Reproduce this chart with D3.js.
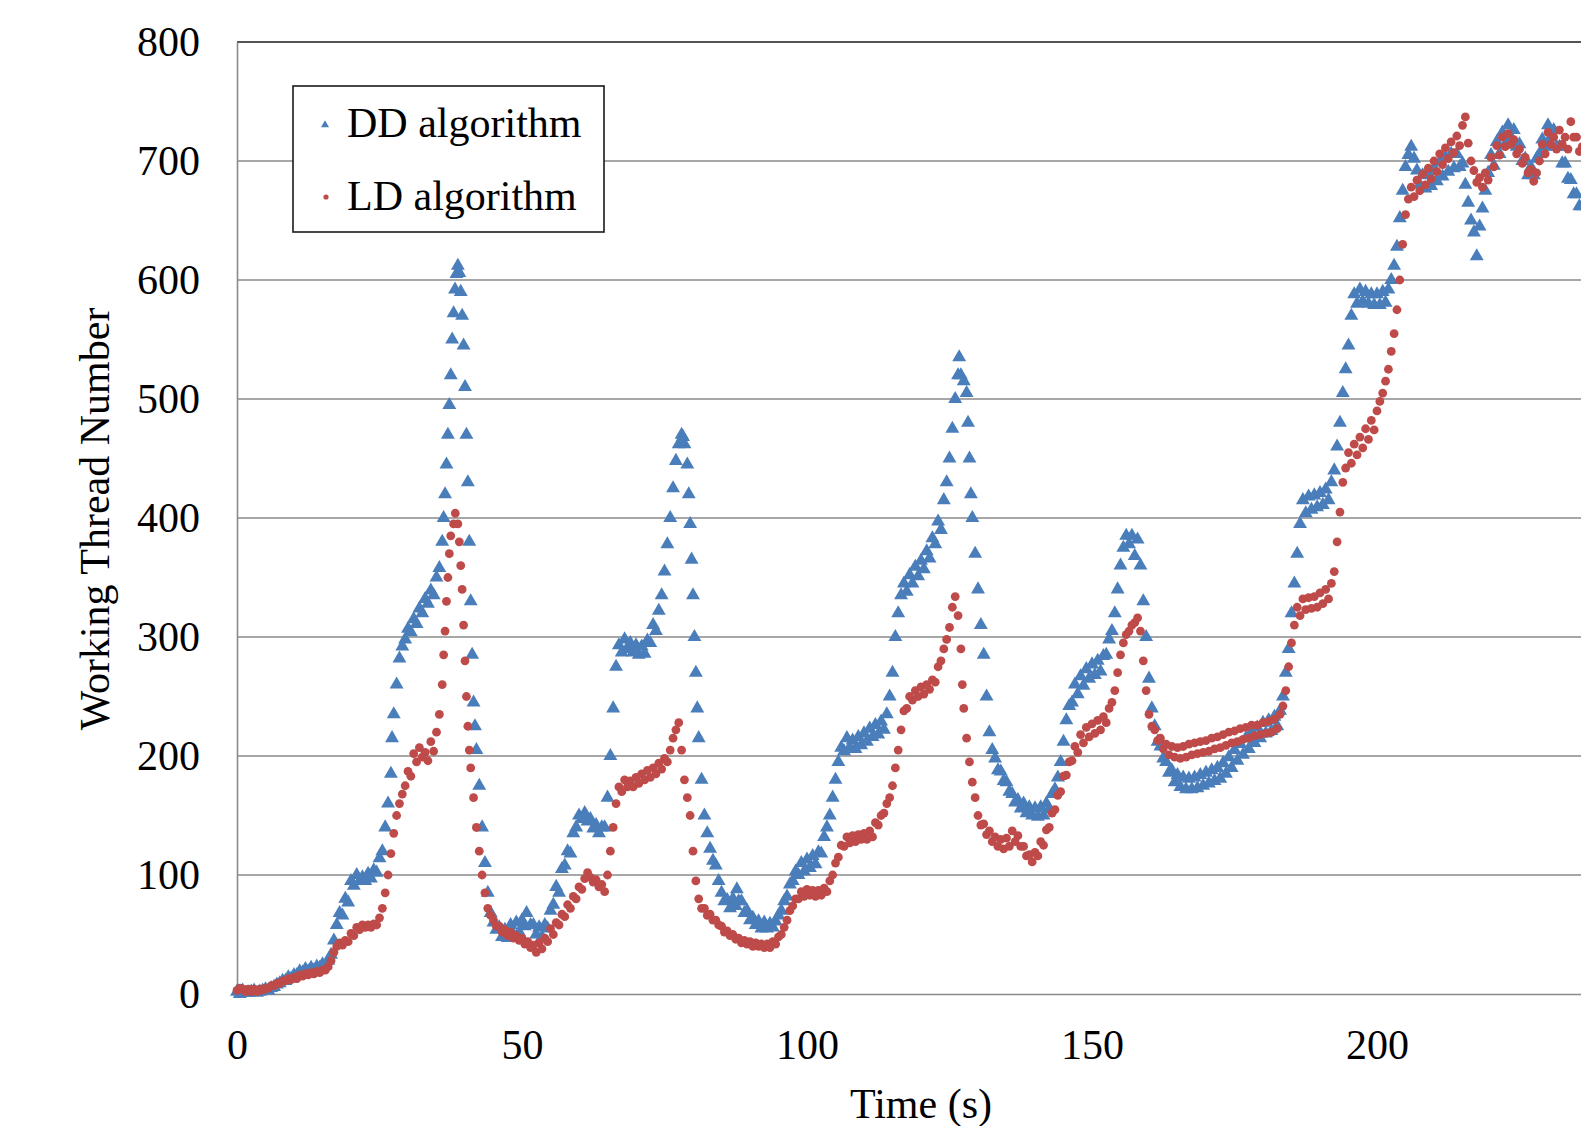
<!doctype html>
<html lang="en">
  <head>
    <meta charset="utf-8">
    <title>Working Thread Number</title>
    <style>
      body{margin:0;background:#fff;}
      .holder{width:1581px;height:1126px;overflow:hidden;}
      text{font-family:"Liberation Serif","Times New Roman",serif;fill:#000;}
    </style>
  </head>
  <body>
    <div class="holder"></div>
    <script src="https://cdn.jsdelivr.net/npm/d3@7/dist/d3.min.js"></script>
    <script>

      // [time (s), working threads] (band top / bottom where the cloud is thick)
      var ddSeries = [
        [0,2],[0.5,0],[1,3],[1.5,1],[2,1],[2.5,2],[3,3],[3.5,1],[4,2],[4.5,3],[5,4],[5.5,3],[6,5],[6.5,6],[7,8],[7.5,9],
        [8,11],[8.5,11],[9,14],[9.5,13],[10,16],[10.5,16],[11,19],[11.5,18],[12,21],[12.5,19],[13,22],[13.5,20],[14,23],
        [14.5,22],[15,25],[15.5,24],[16,28],[16.5,33],[17,45],[17.5,58],[18,68],[18.5,66],[19,80],[19.5,77],[20,95],
        [20.5,91],[21,100],[21.5,95],[22,98],[22.5,95],[23,101],[23.5,97],[24,104],[24.5,102],[25,114],[25.5,120],
        [26,140],[26.5,160],[27,185],[27.2,215],[27.5,235],[28,260],[28.5,282],[29,292],[29.5,298],[30,307],[30.5,304],
        [31,315],[31.5,311],[32,324],[32.5,320],[33,332],[33.5,328],[34,339],[34.5,335],[35,350],[35.5,358],[36,380],
        [36.25,400],[36.5,420],[36.75,445],[37,470],[37.25,495],[37.5,520],[37.75,550],[38,572],[38.25,592],[38.5,605],
        [38.75,612],[39,606],[39.25,590],[39.5,570],[39.75,545],[40,510],[40.25,470],[40.5,430],[40.75,380],[41,330],
        [41.25,285],[41.5,245],[41.75,225],[42,205],[42.5,175],[43,140],[43.5,110],[44,85],[44.5,68],[45,60],[45.5,54],
        [46,56],[46.5,48],[47,54],[47.5,47],[48,58],[48.5,50],[49,60],[49.5,52],[50,62],[50.5,57],[50.8,68],[51.5,58],
        [52,58],[52.5,50],[53,56],[53.5,48],[54,58],[54.5,55],[55,70],[55.5,75],[56,90],[56.5,85],[57,105],[57.5,108],
        [58,120],[58.5,118],[59,135],[59.5,140],[60,150],[60.5,147],[61,152],[61.5,145],[62,147],[62.5,139],[63,142],
        [63.5,135],[64,140],[64.5,140],[65,165],[65.5,200],[66,240],[66.5,275],[67,293],[67.5,287],[68,298],[68.5,290],
        [69,295],[69.5,287],[70,293],[70.5,285],[71,292],[71.5,286],[72,297],[72.5,295],[73,310],[73.5,305],[74,322],
        [74.5,335],[75,355],[75.5,378],[76,400],[76.5,425],[77,448],[77.5,462],[78,470],[78.25,468],[78.5,462],[79,445],
        [79.25,420],[79.5,395],[79.75,365],[80,335],[80.25,300],[80.5,270],[80.75,240],[81,215],[81.5,180],[82,150],
        [82.5,135],[83,122],[83.5,112],[84,108],[84.5,95],[85,85],[85.5,78],[86,79],[86.5,72],[87,80],[87.5,74],
        [87.7,88],[88,78],[88.5,78],[89,68],[89.5,70],[90,62],[90.5,64],[91,58],[91.5,61],[92,55],[92.5,60],[93,55],
        [93.5,59],[94,56],[94.5,61],[95,66],[95.5,70],[96,78],[96.5,82],[97,92],[97.5,95],[98,103],[98.5,100],[99,110],
        [99.5,103],[100,113],[100.5,106],[101,116],[101.5,109],[102,119],[102.5,118],[103,132],[103.5,140],[104,150],
        [104.5,165],[105,180],[105.5,195],[106,207],[106.5,204],[107,215],[107.5,207],[108,213],[108.5,206],[109,216],
        [109.5,209],[110,219],[110.5,212],[111,223],[111.5,216],[112,226],[112.5,218],[113,229],[113.5,222],[114,235],
        [114.5,250],[115,270],[115.5,300],[116,320],[116.5,335],[117,345],[117.5,338],[118,352],[118.5,345],[119,359],
        [119.5,351],[120,364],[120.5,357],[121,372],[121.5,366],[122,383],[122.5,378],[123,397],[123.5,390],[124,415],
        [124.5,430],[125,450],[125.5,475],[126,500],[126.5,520],[126.7,535],[127,520],[127.5,515],[128,505],[128.25,480],
        [128.5,450],[128.75,420],[129,400],[129.5,370],[130,340],[130.5,310],[131,285],[131.5,250],[132,220],[132.5,205],
        [133,198],[133.5,188],[134,187],[134.5,179],[135,178],[135.5,170],[136,168],[136.5,161],[137,163],[137.5,156],
        [138,160],[138.5,152],[139,157],[139.5,150],[140,156],[140.5,149],[141,157],[141.5,150],[142,160],[142.5,155],
        [143,168],[143.5,172],[144,182],[144.5,195],[145,212],[145.5,230],[146,242],[146.5,245],[147,260],[147.5,252],
        [148,267],[148.5,259],[149,273],[149.5,265],[150,277],[150.5,268],[151,280],[151.5,271],[152,284],[152.5,285],
        [153,298],[153.5,305],[154,320],[154.5,340],[155,360],[155.5,375],[156,385],[156.5,378],[157,385],[157.5,368],
        [158,382],[158.5,360],[159,330],[159.5,300],[160,265],[160.5,240],[161,225],[161.5,212],[162,208],[162.5,198],
        [163,195],[163.5,186],[164,188],[164.5,178],[165,184],[165.5,174],[166,182],[166.5,172],[167,181],[167.5,172],
        [168,182],[168.5,173],[169,184],[169.5,175],[170,186],[170.5,177],[171,188],[171.5,179],[172,190],[172.5,181],
        [173,194],[173.5,185],[174,199],[174.5,190],[175,205],[175.5,196],[176,210],[176.5,201],[177,215],[177.5,206],
        [178,220],[178.5,211],[179,224],[179.5,215],[180,228],[180.5,219],[181,230],[181.5,221],[182,233],[182.5,225],
        [183,238],[183.5,250],[184,270],[184.5,290],[185,320],[185.5,345],[186,370],[186.5,395],[187,415],[187.5,404],
        [188,418],[188.5,407],[189,419],[189.5,409],[190,421],[190.5,411],[191,424],[191.5,415],[192,430],[192.5,440],
        [193,460],[193.5,480],[194,505],[194.5,525],[195,545],[195.5,570],[196,588],[196.5,580],[197,592],[197.5,582],
        [198,590],[198.5,580],[199,588],[199.5,579],[200,588],[200.5,579],[201,590],[201.5,581],[202,592],[202.5,600],
        [203,612],[203.5,628],[204,652],[204.5,675],[205,695],[205.5,705],[206,712],[206.5,702],[207,692],[207.5,680],
        [208,688],[208.5,677],[209,690],[209.5,679],[210,694],[210.5,683],[211,699],[211.5,687],[212,703],[212.5,691],
        [213,706],[213.5,694],[214,706],[214.5,695],[215,698],[215.5,680],[216,665],[216.5,650],[217,640],[217.5,620],
        [218,645],[218.5,660],[219,675],[219.5,690],[220,705],[220.5,696],[221,716],[221.5,706],[222,724],[222.5,714],
        [223,730],[223.5,720],[224,726],[224.5,712],[225,714],[225.5,700],[226,702],[226.5,688],[227,695],[227.5,688],
        [228,702],[228.5,706],[229,718],[229.5,712],[230,730],[230.5,720],[231,726],[231.5,712],[232,712],[232.5,698],
        [233,698],[233.5,685],[234,684],[234.5,672],[235,672],[235.5,662],[236,662]
      ];

      var ldSeries = [
        [0,3],[0.5,5],[1,4],[1.5,2],[2,4],[2.5,2],[3,4],[3.5,2],[4,4],[4.5,3],[5,5],[5.5,5],[6,7],[6.5,7],[7,9],[7.5,9],
        [8,11],[8.5,11],[9,13],[9.5,12],[10,14],[10.5,13],[11,16],[11.5,15],[12,17],[12.5,16],[13,18],[13.5,17],[14,19],
        [14.5,18],[15,20],[15.5,20],[16,23],[16.5,28],[17,35],[17.5,40],[18,43],[18.5,41],[19,45],[19.5,44],[20,51],
        [20.5,49],[21,56],[21.5,54],[22,58],[22.5,56],[23,58],[23.5,56],[24,59],[24.5,58],[25,64],[25.5,72],[26,85],
        [26.5,100],[27,118],[27.5,135],[28,150],[28.5,160],[29,168],[29.5,175],[30,187],[30.5,183],[31,202],[31.5,195],
        [32,207],[32.5,199],[33,203],[33.5,196],[34,212],[34.5,204],[35,220],[35.5,235],[36,260],[36.25,285],[36.5,305],
        [36.75,330],[37,350],[37.25,370],[37.5,385],[38,395],[38.3,404],[38.75,395],[39,380],[39.25,360],[39.5,340],
        [39.75,310],[40,280],[40.25,250],[40.5,225],[40.75,205],[41,190],[41.5,165],[42,140],[42.5,120],[43,100],
        [43.5,85],[44,72],[44.5,66],[45,62],[45.5,57],[46,57],[46.5,52],[47,54],[47.5,49],[48,52],[48.5,47],[49,49],
        [49.5,45],[50,47],[50.5,42],[51,44],[51.5,39],[52,41],[52.5,35],[53,43],[53.5,38],[54,47],[54.5,44],[55,55],
        [55.5,50],[56,60],[56.5,58],[57,67],[57.5,65],[58,75],[58.5,72],[59,82],[59.5,80],[60,90],[60.5,88],[61,97],
        [61.5,102],[62,98],[62.5,94],[63,96],[63.5,90],[64,92],[64.5,86],[65,100],[65.5,120],[66,140],[66.5,160],[67,174],
        [67.5,170],[68,180],[68.5,174],[69,179],[69.5,174],[70,182],[70.5,177],[71,185],[71.5,180],[72,188],[72.5,182],
        [73,190],[73.5,185],[74,194],[74.5,189],[75,198],[75.5,195],[76,205],[76.5,215],[77,222],[77.5,228],[78,205],
        [78.5,180],[79,165],[79.5,150],[80,120],[80.5,95],[81,80],[81.5,72],[82,72],[82.5,66],[83,67],[83.5,62],[84,62],
        [84.5,58],[85,57],[85.5,52],[86,53],[86.5,49],[87,50],[87.5,46],[88,47],[88.5,43],[89,45],[89.5,42],[90,44],
        [90.5,40],[91,43],[91.5,40],[92,42],[92.5,39],[93,42],[93.5,39],[94,44],[94.5,42],[95,48],[95.5,50],[96,56],
        [96.5,62],[97,70],[97.5,74],[98,80],[98.5,80],[99,86],[99.5,82],[100,88],[100.5,83],[101,87],[101.5,82],[102,87],
        [102.5,83],[103,89],[103.5,86],[104,95],[104.5,100],[105,110],[105.5,115],[106,125],[106.5,124],[107,132],
        [107.5,127],[108,133],[108.5,128],[109,134],[109.5,130],[110,135],[110.5,130],[111,137],[111.5,132],[112,144],
        [112.5,142],[113,150],[113.5,152],[114,160],[114.5,165],[115,175],[115.5,190],[116,205],[116.5,222],[117,238],
        [117.5,240],[118,250],[118.5,247],[119,255],[119.5,250],[120,258],[120.5,252],[121,260],[121.5,256],[122,264],
        [122.5,262],[123,275],[123.5,280],[124,290],[124.5,298],[125,308],[125.5,325],[126,334],[126.5,318],[127,290],
        [127.25,260],[127.5,240],[128,215],[128.5,195],[129,178],[129.5,165],[130,150],[130.5,142],[131,143],[131.5,134],
        [132,137],[132.5,128],[133,132],[133.5,124],[134,130],[134.5,122],[135,131],[135.5,124],[136,137],[136.5,128],
        [137,133],[137.5,124],[138,124],[138.5,116],[139,117],[139.5,111],[140,119],[140.5,116],[141,128],[141.5,125],
        [142,138],[142.5,140],[143,152],[143.5,155],[144,167],[144.5,170],[145,183],[145.5,184],[146,195],[146.5,196],
        [147,208],[147.5,203],[148,218],[148.5,211],[149,224],[149.5,216],[150,227],[150.5,219],[151,230],[151.5,222],
        [152,233],[152.5,228],[153,240],[153.5,245],[154,255],[154.5,270],[155,285],[155.5,295],[156,302],[156.5,305],
        [157,310],[157.5,312],[158,316],[158.5,305],[159,280],[159.5,255],[160,235],[160.5,225],[161,222],[161.5,213],
        [162,215],[162.5,206],[163,210],[163.5,201],[164,208],[164.5,199],[165,207],[165.5,198],[166,208],[166.5,199],
        [167,210],[167.5,201],[168,211],[168.5,202],[169,212],[169.5,203],[170,213],[170.5,204],[171,215],[171.5,206],
        [172,216],[172.5,207],[173,218],[173.5,209],[174,220],[174.5,211],[175,221],[175.5,212],[176,223],[176.5,214],
        [177,224],[177.5,215],[178,226],[178.5,217],[179,226],[179.5,218],[180,228],[180.5,219],[181,229],[181.5,220],
        [182,231],[182.5,223],[183,235],[183.5,242],[184,255],[184.5,275],[185,295],[185.5,310],[186,325],[186.5,318],
        [187,332],[187.5,323],[188,333],[188.5,324],[189,334],[189.5,325],[190,337],[190.5,328],[191,340],[191.5,332],
        [192,345],[192.5,355],[193,380],[193.5,405],[194,430],[194.5,442],[195,455],[195.5,446],[196,462],[196.5,453],
        [197,468],[197.5,459],[198,475],[198.5,466],[199,482],[199.5,474],[200,490],[200.5,498],[201,505],[201.5,515],
        [202,525],[202.5,540],[203,555],[203.5,575],[204,600],[204.5,630],[205,655],[205.5,668],[206,678],[206.5,670],
        [207,684],[207.5,675],[208,689],[208.5,680],[209,694],[209.5,685],[210,700],[210.5,691],[211,706],[211.5,697],
        [212,711],[212.5,702],[213,716],[213.5,707],[214,721],[214.5,713],[215,730],[215.5,737],[216,715],[216.5,700],
        [217,692],[217.5,682],[218,686],[218.5,678],[219,690],[219.5,684],[220,703],[220.5,695],[221,713],[221.5,705],
        [222,720],[222.5,712],[223,723],[223.5,714],[224,718],[224.5,706],[225,710],[225.5,698],[226,703],[226.5,690],
        [227,693],[227.5,683],[228,690],[228.5,700],[229,714],[229.5,706],[230,724],[230.5,714],[231,720],[231.5,710],
        [232,726],[232.5,714],[233,720],[233.5,710],[234,733],[234.5,720],[235,720],[235.5,708],[236,712]
      ];

      var seriesNames = ["DD algorithm", "LD algorithm"];
      var xTicks = [0, 50, 100, 150, 200];
      var yTicks = [0, 100, 200, 300, 400, 500, 600, 700, 800];

      var width = 1581, height = 1126,
          blue = "#4a7ebb", red = "#be4b48", grid = "#8a8a8a";

      var x = d3.scaleLinear().domain([0, 240]).range([237, 1605]);
      var y = d3.scaleLinear().domain([0, 800]).range([994, 42]);

      var svg = d3.select(".holder")
          .append("svg")
          .attr("width", width)
          .attr("height", height);

      //soft edge on the markers, the original figure is a little blurred
      svg.append("defs").append("filter")
          .attr("id", "soft")
          .append("feGaussianBlur").attr("stdDeviation", 0.7);

      //horizontal gridlines
      svg.append("g").selectAll("line")
          .data(yTicks.filter(function(d){ return d > 0 && d < 800; }))
          .enter().append("line")
          .attr("x1", x(0)).attr("x2", x(240))
          .attr("y1", function(d){ return y(d); })
          .attr("y2", function(d){ return y(d); })
          .attr("stroke", grid).attr("stroke-width", 1.6);

      //top border of plot area
      svg.append("line")
          .attr("x1", x(0)).attr("x2", x(240))
          .attr("y1", y(800)).attr("y2", y(800))
          .attr("stroke", "#1a1a1a").attr("stroke-width", 1.6);

      //axes
      var yAxis = svg.append("g")
          .attr("transform", "translate(" + x(0) + ",0)")
          .call(d3.axisLeft(y).tickValues(yTicks).tickSize(0).tickPadding(37));

      var xAxis = svg.append("g")
          .attr("transform", "translate(0," + y(0) + ")")
          .call(d3.axisBottom(x).tickValues(xTicks).tickSize(0).tickPadding(35));

      [yAxis, xAxis].forEach(function(a){
        a.select(".domain").attr("stroke", grid).attr("stroke-width", 1.6);
        a.selectAll("text")
          .style("font-family", "Liberation Serif, Times New Roman, serif")
          .style("font-size", "42px")
          .attr("fill", "#000");
      });

      //the points
      var tri = d3.symbol().type(d3.symbolTriangle).size(84);
      svg.append("g")
          .attr("filter", "url(#soft)")
          .selectAll("path")
          .data(ddSeries)
          .enter().append("path")
          .attr("d", tri)
          .attr("transform", function(d){ return "translate(" + x(d[0]) + "," + y(d[1]) + ")"; })
          .attr("fill", blue);

      svg.append("g")
          .attr("filter", "url(#soft)")
          .selectAll("circle")
          .data(ldSeries)
          .enter().append("circle")
          .attr("cx", function(d){ return x(d[0]); })
          .attr("cy", function(d){ return y(d[1]); })
          .attr("r", 4.4)
          .attr("fill", red);

      //axis titles
      svg.append("text")
          .attr("x", 921).attr("y", 1118)
          .attr("text-anchor", "middle")
          .style("font-size", "42px")
          .text("Time (s)");

      svg.append("text")
          .attr("transform", "translate(109,519) rotate(-90)")
          .attr("text-anchor", "middle")
          .style("font-size", "42px")
          .text("Working Thread Number");

      //legend
      var legend = svg.append("g");
      legend.append("rect")
          .attr("x", 293).attr("y", 86)
          .attr("width", 311).attr("height", 146)
          .attr("fill", "#fff").attr("stroke", "#1a1a1a").attr("stroke-width", 1.6);

      legend.append("path")
          .attr("d", d3.symbol().type(d3.symbolTriangle).size(28))
          .attr("transform", "translate(325,125)")
          .attr("fill", blue);
      legend.append("circle")
          .attr("cx", 326).attr("cy", 197).attr("r", 2.6)
          .attr("fill", red);

      legend.selectAll("text")
          .data(seriesNames)
          .enter().append("text")
          .attr("x", 347)
          .attr("y", function(d, i){ return i === 0 ? 137 : 210; })
          .style("font-size", "42px")
          .text(function(d){ return d; });

    </script>
  </body>
</html>
